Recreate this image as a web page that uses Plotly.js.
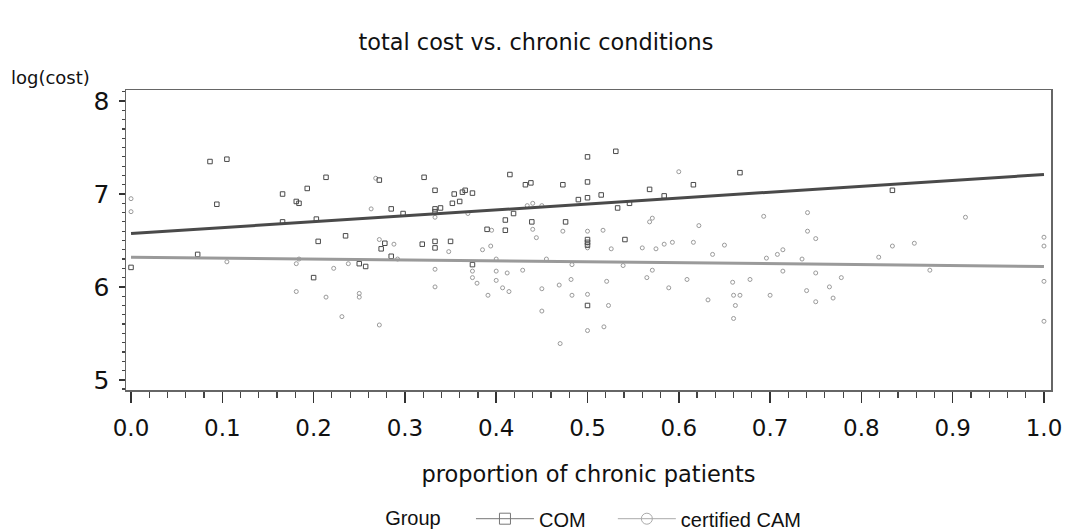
<!DOCTYPE html>
<html>
<head>
<meta charset="utf-8">
<script src="https://cdn.plot.ly/plotly-3.0.1.min.js"></script>
<style>html,body{margin:0;padding:0;background:#fff;}#chart{width:1072px;height:532px;}</style>
</head>
<body>
<div id="chart"></div>
<script>
// COM group (proportion of chronic patients, log(cost))
const comX = [0.0, 0.0865, 0.105, 0.094, 0.073, 0.166, 0.166, 0.181, 0.184, 0.193, 0.2136, 0.203, 0.205, 0.2, 0.235,
  0.25, 0.257, 0.272, 0.278, 0.274, 0.285, 0.285, 0.298, 0.321, 0.319, 0.333, 0.333, 0.339, 0.333, 0.333, 0.333,
  0.35, 0.354, 0.363, 0.366, 0.374, 0.352, 0.36, 0.374, 0.39, 0.415, 0.41, 0.41, 0.419, 0.432, 0.438, 0.439,
  0.473, 0.476, 0.49, 0.5, 0.5, 0.5, 0.5, 0.5, 0.5, 0.5, 0.515, 0.531, 0.533, 0.541, 0.546, 0.568, 0.584,
  0.616, 0.667, 0.834];
const comY = [6.21, 7.35, 7.375, 6.89, 6.35, 7.0, 6.70, 6.92, 6.90, 7.06, 7.18, 6.73, 6.49, 6.10, 6.55,
  6.25, 6.22, 7.15, 6.47, 6.41, 6.84, 6.33, 6.79, 7.18, 6.46, 7.04, 6.84, 6.85, 6.81, 6.49, 6.42,
  6.49, 7.0, 7.02, 7.04, 7.01, 6.90, 6.92, 6.24, 6.62, 7.21, 6.72, 6.61, 6.79, 7.10, 7.12, 6.70,
  7.10, 6.70, 6.94, 7.40, 7.13, 6.96, 6.51, 6.48, 6.45, 5.80, 6.99, 7.46, 6.85, 6.51, 6.90, 7.05, 6.98,
  7.10, 7.23, 7.04];

// certified CAM group
const camX = [0.0, 0.0, 0.105, 0.181, 0.181, 0.184, 0.2136, 0.222, 0.231, 0.238,
  0.25, 0.25, 0.263, 0.268, 0.272, 0.288, 0.292, 0.272, 0.333, 0.333, 0.333, 0.348, 0.369, 0.374, 0.374,
  0.379, 0.385, 0.395, 0.394, 0.4, 0.4, 0.4, 0.391, 0.407, 0.414, 0.412, 0.429, 0.434, 0.44, 0.44, 0.444,
  0.45, 0.45, 0.45, 0.455, 0.469, 0.47, 0.473, 0.482, 0.483, 0.483,
  0.5, 0.5, 0.5, 0.5, 0.517, 0.521, 0.523, 0.518, 0.526, 0.539, 0.56, 0.565, 0.568, 0.571, 0.571, 0.575,
  0.584, 0.593, 0.589, 0.60, 0.609, 0.616, 0.622, 0.632, 0.637, 0.65, 0.659, 0.66, 0.667, 0.662, 0.66,
  0.678, 0.693, 0.696, 0.70, 0.708, 0.714, 0.714, 0.735, 0.741, 0.741, 0.74,
  0.75, 0.75, 0.75, 0.765, 0.769, 0.778, 0.819, 0.834, 0.858, 0.875, 0.914, 1.0, 1.0, 1.0, 1.0];
const camY = [6.95, 6.81, 6.27, 6.25, 5.95, 6.30, 5.89, 6.20, 5.68, 6.25,
  5.93, 5.89, 6.84, 7.17, 6.51, 6.46, 6.30, 5.59, 6.75, 6.19, 6.0, 6.38, 6.79, 6.17, 6.10,
  6.04, 6.40, 6.61, 6.44, 6.30, 6.17, 6.07, 5.91, 5.99, 5.95, 6.15, 6.18, 6.875, 6.90, 6.62, 6.53,
  6.875, 5.98, 5.74, 6.30, 6.02, 5.39, 6.60, 6.08, 5.91, 6.24,
  6.60, 6.42, 5.92, 5.53, 6.61, 6.06, 5.80, 5.57, 6.41, 6.23, 6.42, 6.10, 6.70, 6.74, 6.18, 6.41,
  6.46, 6.48, 5.99, 7.24, 6.08, 6.48, 6.66, 5.86, 6.35, 6.45, 6.05, 5.91, 5.91, 5.80, 5.66,
  6.08, 6.76, 6.31, 5.91, 6.35, 6.40, 6.17, 6.30, 6.80, 6.60, 5.96,
  6.52, 6.15, 5.84, 6.00, 5.88, 6.10, 6.32, 6.44, 6.47, 6.18, 6.75, 6.535, 6.44, 6.06, 5.63];

// fitted regression lines
const fitX = [0, 1];
const comFit = [6.575, 7.21];
const camFit = [6.32, 6.22];

// axes and legend labels
const xTicks = [0, 0.1, 0.2, 0.3, 0.4, 0.5, 0.6, 0.7, 0.8, 0.9, 1.0];
const xTickText = ['0.0', '0.1', '0.2', '0.3', '0.4', '0.5', '0.6', '0.7', '0.8', '0.9', '1.0'];
const yTicks = [5, 6, 7, 8];
const groupNames = ['COM', 'certified CAM'];

const COM_C = '#4a4a4a';
const CAM_C = '#9a9a9a';
const NB = '\u00a0\u00a0\u00a0\u00a0';

const traces = [
  {x: camX, y: camY, type: 'scatter', mode: 'markers', showlegend: false, hoverinfo: 'x+y',
   marker: {symbol: 'circle-open', size: 4, color: CAM_C, line: {width: 1, color: CAM_C}}},
  {x: comX, y: comY, type: 'scatter', mode: 'markers', showlegend: false, hoverinfo: 'x+y',
   marker: {symbol: 'square-open', size: 4.5, color: COM_C, line: {width: 1, color: COM_C}}},
  {x: fitX, y: camFit, type: 'scatter', mode: 'lines', showlegend: false, line: {color: CAM_C, width: 3}},
  {x: fitX, y: comFit, type: 'scatter', mode: 'lines', showlegend: false, line: {color: COM_C, width: 3}},
  {x: [null], y: [null], type: 'scatter', mode: 'lines+markers', name: groupNames[0] + NB,
   line: {color: '#777', width: 1}, marker: {symbol: 'square-open', size: 11, color: '#777'}},
  {x: [null], y: [null], type: 'scatter', mode: 'lines+markers', name: groupNames[1],
   line: {color: '#aaa', width: 1}, marker: {symbol: 'circle-open', size: 11, color: '#aaa'}}
];

const layout = {
  width: 1072, height: 532,
  margin: {l: 126, r: 21, t: 90, b: 142},
  paper_bgcolor: '#fff', plot_bgcolor: '#fff',
  font: {family: 'DejaVu Sans, sans-serif', color: '#111'},
  title: {text: 'total cost vs. chronic conditions', x: 0.5, xanchor: 'center', y: 0.921, yanchor: 'middle',
          font: {family: 'DejaVu Sans, sans-serif', size: 22.4, color: '#111'}},
  xaxis: {
    automargin: false,
    range: [-0.0055, 1.0077], tickmode: 'array', tickvals: xTicks, ticktext: xTickText,
    showgrid: false, zeroline: false, showline: true, linecolor: '#666', linewidth: 1.5, mirror: true,
    ticks: 'outside', ticklen: 11, tickwidth: 1.5, tickcolor: '#333',
    minor: {dtick: 0.02, ticks: 'outside', ticklen: 6, tickwidth: 1.2, tickcolor: '#444', showgrid: false},
    tickfont: {family: 'DejaVu Sans, sans-serif', size: 23, color: '#111'},
    ticklabelstandoff: 6,
    title: {text: 'proportion of chronic patients', standoff: 26,
            font: {family: 'DejaVu Sans, sans-serif', size: 22.5, color: '#111'}}
  },
  yaxis: {
    automargin: false,
    range: [4.89, 8.12], tickmode: 'array', tickvals: yTicks,
    showgrid: false, zeroline: false, showline: true, linecolor: '#666', linewidth: 1.5, mirror: true,
    ticks: 'outside', ticklen: 6, tickwidth: 1.5, tickcolor: '#333',
    minor: {dtick: 0.1, ticks: 'outside', ticklen: 3, tickwidth: 1.2, tickcolor: '#444', showgrid: false},
    tickfont: {family: 'DejaVu Sans, sans-serif', size: 25, color: '#111'},
    ticklabelstandoff: 4
  },
  annotations: [
    {text: 'log(cost)', xref: 'paper', yref: 'paper', x: -0.126, y: 1.0, xanchor: 'left', yanchor: 'bottom',
     showarrow: false, font: {family: 'DejaVu Sans, sans-serif', size: 18, color: '#111'}}
  ],
  legend: {
    orientation: 'h', xref: 'paper', x: 0.278, xanchor: 'left', yref: 'container', y: 0.025, yanchor: 'middle',
    title: {text: 'Group    ', side: 'left', font: {family: 'Liberation Sans, Arial, sans-serif', size: 20, color: '#111'}},
    font: {family: 'Liberation Sans, Arial, sans-serif', size: 20, color: '#111'},
    itemwidth: 58, tracegroupgap: 0
  },
  showlegend: true
};

Plotly.newPlot('chart', traces, layout, {displayModeBar: false, staticPlot: true});
</script>
</body>
</html>
